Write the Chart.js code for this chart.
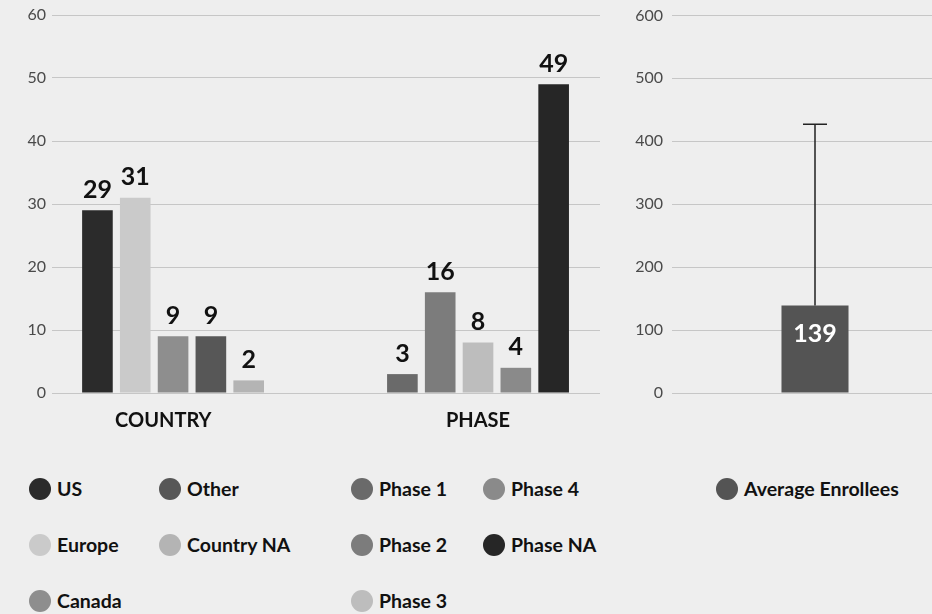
<!DOCTYPE html>
<html>
<head>
<meta charset="utf-8">
<script src="https://cdn.jsdelivr.net/npm/chart.js@4"></script>
<style>
    html, body { margin: 0; padding: 0; width: 932px; height: 614px; overflow: hidden; background: #eeeeee; font-family: Lato, sans-serif; }
    #wrap { position: relative; width: 932px; height: 614px; }
    #leftBox { position: absolute; left: 0; top: 0; width: 610px; height: 440px; }
    #rightBox { position: absolute; left: 600px; top: 0; width: 358px; height: 440px; }
    .item { position: absolute; display: flex; align-items: center; font-size: 19.5px; font-weight: 700; color: #111; white-space: nowrap; }
    .dot { width: 22px; height: 22px; border-radius: 50%; margin-right: 6px; }
</style>
</head>
<body>
<div id="wrap">
    <div id="leftBox"><canvas id="groupChart"></canvas></div>
    <div id="rightBox"><canvas id="enrollChart"></canvas></div>
    <div id="legend"></div>
</div>
<script>
const categories = ['COUNTRY', 'PHASE'];

const countrySeries = ['US', 'Europe', 'Canada', 'Other', 'Country NA'];
const countryValues = [29, 31, 9, 9, 2];

const phaseSeries = ['Phase 1', 'Phase 2', 'Phase 3', 'Phase 4', 'Phase NA'];
const phaseValues = [3, 16, 8, 4, 49];

const enrollSeries = ['Average Enrollees'];
const enrollValues = [139];
const enrollSd = [288];

const countTicks = [0, 10, 20, 30, 40, 50, 60];
const enrollTicks = [0, 100, 200, 300, 400, 500, 600];

// greys, the reference is a grayscale print
const countryColors = ['#2b2b2b', '#cacaca', '#8e8e8e', '#575757', '#b4b4b4'];
const phaseColors = ['#6a6a6a', '#7c7c7c', '#bdbdbd', '#8a8a8a', '#262626'];
const enrollColors = ['#545454'];

const gridColor = '#c6c6c6';
const tickColor = '#4a4a4a';

function buildDatasets() {
    const sets = [];
    countrySeries.forEach((name, i) => {
        sets.push({ label: name, data: [countryValues[i], null], backgroundColor: countryColors[i] });
    });
    phaseSeries.forEach((name, i) => {
        sets.push({ label: name, data: [null, phaseValues[i]], backgroundColor: phaseColors[i] });
    });
    return sets;
}

const valueLabels = {
    id: 'valueLabels',
    afterDatasetsDraw(chart, args, opts) {
        const ctx = chart.ctx;
        ctx.save();
        ctx.font = 'bold 25px Lato';
        ctx.textAlign = 'center';
        chart.data.datasets.forEach((ds, di) => {
            const meta = chart.getDatasetMeta(di);
            meta.data.forEach((bar, i) => {
                const v = ds.data[i];
                if (v === null || v === undefined) return;
                if (opts.inside) {
                    ctx.fillStyle = '#ffffff';
                    ctx.textBaseline = 'middle';
                    ctx.fillText(v, bar.x, bar.y + 28);
                } else {
                    ctx.fillStyle = '#111111';
                    ctx.textBaseline = 'bottom';
                    ctx.fillText(v, bar.x, bar.y - 8);
                }
            });
        });
        ctx.restore();
    }
};

const errorBars = {
    id: 'errorBars',
    afterDatasetsDraw(chart) {
        const ctx = chart.ctx;
        const yScale = chart.scales.y;
        const meta = chart.getDatasetMeta(0);
        ctx.save();
        ctx.strokeStyle = '#222222';
        ctx.lineWidth = 1.5;
        meta.data.forEach((bar, i) => {
            const top = yScale.getPixelForValue(enrollValues[i] + enrollSd[i]);
            ctx.beginPath();
            ctx.moveTo(bar.x, bar.y);
            ctx.lineTo(bar.x, top);
            ctx.moveTo(bar.x - 12, top);
            ctx.lineTo(bar.x + 12, top);
            ctx.stroke();
        });
        ctx.restore();
    }
};

function yAxis(ticks, width, pad) {
    return {
        min: ticks[0],
        max: ticks[ticks.length - 1],
        afterBuildTicks: (scale) => { scale.ticks = ticks.map(v => ({ value: v })); },
        afterFit: (scale) => { scale.width = width; },
        border: { display: false },
        grid: { color: gridColor, lineWidth: 1, drawTicks: false },
        ticks: { color: tickColor, font: { family: 'Lato', size: 16, lineHeight: 0.8 }, padding: pad }
    };
}

function createGroupChart() {
    const ctx = document.getElementById('groupChart').getContext('2d');
    new Chart(ctx, {
        type: 'bar',
        data: {
            labels: categories.map((c, i) => i),
            datasets: buildDatasets()
        },
        options: {
            responsive: true,
            maintainAspectRatio: false,
            animation: false,
            layout: { padding: { top: 15, right: 10, left: 0, bottom: 0 } },
            datasets: { bar: { skipNull: true, categoryPercentage: 0.62, barPercentage: 0.81, borderWidth: 0 } },
            plugins: { legend: { display: false }, tooltip: { enabled: false }, valueLabels: { inside: false } },
            scales: {
                x: {
                    type: 'linear',
                    min: -0.397,
                    max: 1.4,
                    offset: false,
                    // the COUNTRY caption sits a little left of its bars
                    afterBuildTicks: (scale) => { scale.ticks = categories.map((c, i) => ({ value: i === 0 ? -0.032 : i })); },
                    afterFit: (scale) => { scale.height = 47; },
                    border: { display: false },
                    grid: { display: false },
                    ticks: {
                        color: '#111111',
                        font: { family: 'Lato', size: 20, weight: 'bold' },
                        padding: 8,
                        maxRotation: 0,
                        callback: (v, i) => categories[i]
                    }
                },
                y: yAxis(countTicks, 52, 6)
            }
        },
        plugins: [valueLabels]
    });
}

function createEnrollChart() {
    const ctx = document.getElementById('enrollChart').getContext('2d');
    new Chart(ctx, {
        type: 'bar',
        data: {
            labels: [''],
            datasets: [{ label: enrollSeries[0], data: enrollValues, backgroundColor: enrollColors[0] }]
        },
        options: {
            responsive: true,
            maintainAspectRatio: false,
            animation: false,
            layout: { padding: { top: 15, right: 0, left: 0, bottom: 0 } },
            datasets: { bar: { categoryPercentage: 0.8, barPercentage: 0.293, borderWidth: 0 } },
            plugins: { legend: { display: false }, tooltip: { enabled: false }, valueLabels: { inside: true } },
            scales: {
                x: {
                    afterFit: (scale) => { scale.height = 47; },
                    border: { display: false },
                    grid: { display: false },
                    ticks: { display: false }
                },
                y: yAxis(enrollTicks, 72, 9)
            }
        },
        plugins: [errorBars, valueLabels]
    });
}

function buildLegend() {
    const box = document.getElementById('legend');
    const groups = [
        { names: countrySeries, colors: countryColors, x: 29, colWidth: 130 },
        { names: phaseSeries, colors: phaseColors, x: 351, colWidth: 132 },
        { names: enrollSeries, colors: enrollColors, x: 716, colWidth: 130 }
    ];
    const rowTop = 477;
    const rowStep = 56;
    groups.forEach(g => {
        g.names.forEach((name, i) => {
            const col = Math.floor(i / 3);
            const row = i % 3;
            const el = document.createElement('div');
            el.className = 'item';
            el.style.left = (g.x + col * g.colWidth) + 'px';
            el.style.top = (rowTop + row * rowStep) + 'px';
            el.innerHTML = '<span class="dot" style="background:' + g.colors[i] + '"></span>' + name;
            box.appendChild(el);
        });
    });
}

createGroupChart();
createEnrollChart();
buildLegend();
</script>
</body>
</html>
